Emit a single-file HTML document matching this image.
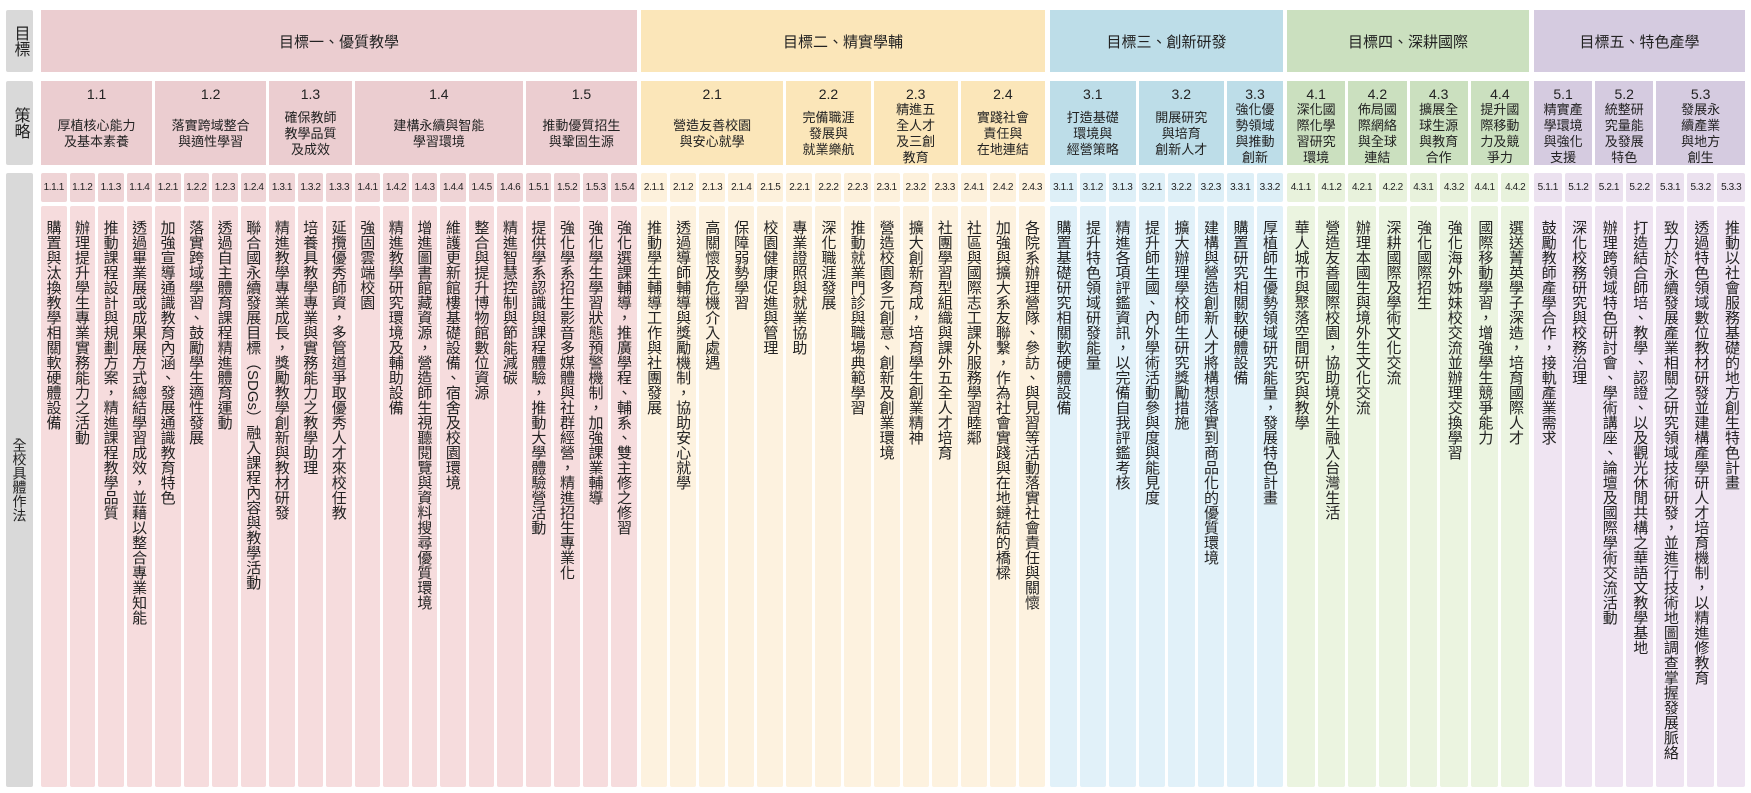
<!DOCTYPE html>
<html><head><meta charset="utf-8">
<style>
*{margin:0;padding:0;box-sizing:border-box}
body{width:1751px;height:793px;background:#fff;position:relative;overflow:hidden;font-family:"Liberation Sans","Noto Sans CJK TC",sans-serif;color:#222}
.lab{position:absolute;left:6px;width:27px;background:#d9d9d9;display:flex;align-items:center;justify-content:center;writing-mode:vertical-rl;border-radius:2px}
.g{position:absolute;top:10px;display:grid;grid-template-rows:62px 9px 84px 8px 29px 4px 581px;column-gap:3px}
.gt{grid-row:1;display:flex;align-items:center;justify-content:center;font-size:15px}
.st{grid-row:3;display:flex;flex-direction:column;align-items:center;text-align:center;min-width:0;overflow:hidden}
.st .n{font-size:14px;padding-top:5px;height:26px}
.st .l{flex:1;display:flex;align-items:center;justify-content:center;font-size:13px;line-height:16px;padding-bottom:4px;white-space:nowrap}
.nm{grid-row:5;font-size:10px;display:flex;align-items:center;justify-content:center;border-radius:2px;letter-spacing:-0.4px;min-width:0;overflow:hidden;white-space:nowrap}
.tx{grid-row:7;writing-mode:vertical-rl;font-size:15px;line-height:27px;padding-top:14px;border-radius:2px;min-width:0;overflow:hidden}
.g1 .gt,.g1 .st{background:#ebcdd0}.g1 .nm{background:#efd4d6}.g1 .tx{background:#f6dcdd}
.g2 .gt,.g2 .st{background:#fbe6b9}.g2 .nm{background:#fdf1dc}.g2 .tx{background:#fdf2df}
.g3 .gt,.g3 .st{background:#bddde8}.g3 .nm{background:#ddeff7}.g3 .tx{background:#e1f1f9}
.g4 .gt,.g4 .st{background:#cbe0bf}.g4 .nm{background:#e8f2dc}.g4 .tx{background:#ebf4e0}
.g5 .gt,.g5 .st{background:#d5cbe0}.g5 .nm{background:#ebe1ef}.g5 .tx{background:#efe4f2}
</style></head><body>
<div class="lab" style="top:10px;height:62px;font-size:16px">目標</div>
<div class="lab" style="top:81px;height:84px;font-size:16px">策略</div>
<div class="lab" style="top:173px;height:614px;font-size:14px">全校具體作法</div>

<div class="g g1" style="left:41px;width:596px;grid-template-columns:repeat(21,minmax(0,1fr))">
<div class="gt" style="grid-column:1/22">目標一、優質教學</div>
<div class="st" style="grid-column:1/5"><div class="n">1.1</div><div class="l">厚植核心能力<br>及基本素養</div></div>
<div class="st" style="grid-column:5/9"><div class="n">1.2</div><div class="l">落實跨域整合<br>與適性學習</div></div>
<div class="st" style="grid-column:9/12"><div class="n">1.3</div><div class="l">確保教師<br>教學品質<br>及成效</div></div>
<div class="st" style="grid-column:12/18"><div class="n">1.4</div><div class="l">建構永續與智能<br>學習環境</div></div>
<div class="st" style="grid-column:18/22"><div class="n">1.5</div><div class="l">推動優質招生<br>與鞏固生源</div></div>
<div class="nm">1.1.1</div><div class="nm">1.1.2</div><div class="nm">1.1.3</div><div class="nm">1.1.4</div><div class="nm">1.2.1</div><div class="nm">1.2.2</div><div class="nm">1.2.3</div><div class="nm">1.2.4</div><div class="nm">1.3.1</div><div class="nm">1.3.2</div><div class="nm">1.3.3</div><div class="nm">1.4.1</div><div class="nm">1.4.2</div><div class="nm">1.4.3</div><div class="nm">1.4.4</div><div class="nm">1.4.5</div><div class="nm">1.4.6</div><div class="nm">1.5.1</div><div class="nm">1.5.2</div><div class="nm">1.5.3</div><div class="nm">1.5.4</div>
<div class="tx">購置與汰換教學相關軟硬體設備</div>
<div class="tx">辦理提升學生專業實務能力之活動</div>
<div class="tx">推動課程設計與規劃方案，精進課程教學品質</div>
<div class="tx">透過畢業展或成果展方式總結學習成效，並藉以整合專業知能</div>
<div class="tx">加強宣導通識教育內涵、發展通識教育特色</div>
<div class="tx">落實跨域學習、鼓勵學生適性發展</div>
<div class="tx">透過自主體育課程精進體育運動</div>
<div class="tx">聯合國永續發展目標（SDGs）融入課程內容與教學活動</div>
<div class="tx">精進教學專業成長，獎勵教學創新與教材研發</div>
<div class="tx">培養具教學專業與實務能力之教學助理</div>
<div class="tx">延攬優秀師資，多管道爭取優秀人才來校任教</div>
<div class="tx">強固雲端校園</div>
<div class="tx">精進教學研究環境及輔助設備</div>
<div class="tx">增進圖書館藏資源，營造師生視聽閱覽與資料搜尋優質環境</div>
<div class="tx">維護更新館樓基礎設備、宿舍及校園環境</div>
<div class="tx">整合與提升博物館數位資源</div>
<div class="tx">精進智慧控制與節能減碳</div>
<div class="tx">提供學系認識與課程體驗，推動大學體驗營活動</div>
<div class="tx">強化學系招生影音多媒體與社群經營，精進招生專業化</div>
<div class="tx">強化學生學習狀態預警機制，加強課業輔導</div>
<div class="tx">強化選課輔導，推廣學程、輔系、雙主修之修習</div>
</div>

<div class="g g2" style="left:641px;width:404px;grid-template-columns:repeat(14,minmax(0,1fr))">
<div class="gt" style="grid-column:1/15">目標二、精實學輔</div>
<div class="st" style="grid-column:1/6"><div class="n">2.1</div><div class="l">營造友善校園<br>與安心就學</div></div>
<div class="st" style="grid-column:6/9"><div class="n">2.2</div><div class="l">完備職涯<br>發展與<br>就業樂航</div></div>
<div class="st" style="grid-column:9/12"><div class="n">2.3</div><div class="l">精進五<br>全人才<br>及三創<br>教育</div></div>
<div class="st" style="grid-column:12/15"><div class="n">2.4</div><div class="l">實踐社會<br>責任與<br>在地連結</div></div>
<div class="nm">2.1.1</div><div class="nm">2.1.2</div><div class="nm">2.1.3</div><div class="nm">2.1.4</div><div class="nm">2.1.5</div><div class="nm">2.2.1</div><div class="nm">2.2.2</div><div class="nm">2.2.3</div><div class="nm">2.3.1</div><div class="nm">2.3.2</div><div class="nm">2.3.3</div><div class="nm">2.4.1</div><div class="nm">2.4.2</div><div class="nm">2.4.3</div>
<div class="tx">推動學生輔導工作與社團發展</div>
<div class="tx">透過導師輔導與獎勵機制，協助安心就學</div>
<div class="tx">高關懷及危機介入處遇</div>
<div class="tx">保障弱勢學習</div>
<div class="tx">校園健康促進與管理</div>
<div class="tx">專業證照與就業協助</div>
<div class="tx">深化職涯發展</div>
<div class="tx">推動就業門診與職場典範學習</div>
<div class="tx">營造校園多元創意、創新及創業環境</div>
<div class="tx">擴大創新育成，培育學生創業精神</div>
<div class="tx">社團學習型組織與課外五全人才培育</div>
<div class="tx">社區與國際志工課外服務學習睦鄰</div>
<div class="tx">加強與擴大系友聯繫，作為社會實踐與在地鏈結的橋樑</div>
<div class="tx">各院系辦理營隊、參訪、與見習等活動落實社會責任與關懷</div>
</div>

<div class="g g3" style="left:1050px;width:233px;grid-template-columns:repeat(8,minmax(0,1fr))">
<div class="gt" style="grid-column:1/9">目標三、創新研發</div>
<div class="st" style="grid-column:1/4"><div class="n">3.1</div><div class="l">打造基礎<br>環境與<br>經營策略</div></div>
<div class="st" style="grid-column:4/7"><div class="n">3.2</div><div class="l">開展研究<br>與培育<br>創新人才</div></div>
<div class="st" style="grid-column:7/9"><div class="n">3.3</div><div class="l">強化優<br>勢領域<br>與推動<br>創新</div></div>
<div class="nm">3.1.1</div><div class="nm">3.1.2</div><div class="nm">3.1.3</div><div class="nm">3.2.1</div><div class="nm">3.2.2</div><div class="nm">3.2.3</div><div class="nm">3.3.1</div><div class="nm">3.3.2</div>
<div class="tx">購置基礎研究相關軟硬體設備</div>
<div class="tx">提升特色領域研發能量</div>
<div class="tx">精進各項評鑑資訊，以完備自我評鑑考核</div>
<div class="tx">提升師生國、內外學術活動參與度與能見度</div>
<div class="tx">擴大辦理學校師生研究獎勵措施</div>
<div class="tx">建構與營造創新人才將構想落實到商品化的優質環境</div>
<div class="tx">購置研究相關軟硬體設備</div>
<div class="tx">厚植師生優勢領域研究能量，發展特色計畫</div>
</div>

<div class="g g4" style="left:1287px;width:242px;grid-template-columns:repeat(8,minmax(0,1fr))">
<div class="gt" style="grid-column:1/9">目標四、深耕國際</div>
<div class="st" style="grid-column:1/3"><div class="n">4.1</div><div class="l">深化國<br>際化學<br>習研究<br>環境</div></div>
<div class="st" style="grid-column:3/5"><div class="n">4.2</div><div class="l">佈局國<br>際網絡<br>與全球<br>連結</div></div>
<div class="st" style="grid-column:5/7"><div class="n">4.3</div><div class="l">擴展全<br>球生源<br>與教育<br>合作</div></div>
<div class="st" style="grid-column:7/9"><div class="n">4.4</div><div class="l">提升國<br>際移動<br>力及競<br>爭力</div></div>
<div class="nm">4.1.1</div><div class="nm">4.1.2</div><div class="nm">4.2.1</div><div class="nm">4.2.2</div><div class="nm">4.3.1</div><div class="nm">4.3.2</div><div class="nm">4.4.1</div><div class="nm">4.4.2</div>
<div class="tx">華人城市與聚落空間研究與教學</div>
<div class="tx">營造友善國際校園，協助境外生融入台灣生活</div>
<div class="tx">辦理本國生與境外生文化交流</div>
<div class="tx">深耕國際及學術文化交流</div>
<div class="tx">強化國際招生</div>
<div class="tx">強化海外姊妹校交流並辦理交換學習</div>
<div class="tx">國際移動學習，增強學生競爭能力</div>
<div class="tx">選送菁英學子深造，培育國際人才</div>
</div>

<div class="g g5" style="left:1534px;width:211px;grid-template-columns:repeat(7,minmax(0,1fr))">
<div class="gt" style="grid-column:1/8">目標五、特色產學</div>
<div class="st" style="grid-column:1/3"><div class="n">5.1</div><div class="l">精實產<br>學環境<br>與強化<br>支援</div></div>
<div class="st" style="grid-column:3/5"><div class="n">5.2</div><div class="l">統整研<br>究量能<br>及發展<br>特色</div></div>
<div class="st" style="grid-column:5/8"><div class="n">5.3</div><div class="l">發展永<br>續產業<br>與地方<br>創生</div></div>
<div class="nm">5.1.1</div><div class="nm">5.1.2</div><div class="nm">5.2.1</div><div class="nm">5.2.2</div><div class="nm">5.3.1</div><div class="nm">5.3.2</div><div class="nm">5.3.3</div>
<div class="tx">鼓勵教師產學合作，接軌產業需求</div>
<div class="tx">深化校務研究與校務治理</div>
<div class="tx">辦理跨領域特色研討會、學術講座、論壇及國際學術交流活動</div>
<div class="tx">打造結合師培、教學、認證、以及觀光休閒共構之華語文教學基地</div>
<div class="tx">致力於永續發展產業相關之研究領域技術研發，並進行技術地圖調查掌握發展脈絡</div>
<div class="tx">透過特色領域數位教材研發並建構產學研人才培育機制，以精進修教育</div>
<div class="tx">推動以社會服務基礎的地方創生特色計畫</div>
</div>
</body></html>
